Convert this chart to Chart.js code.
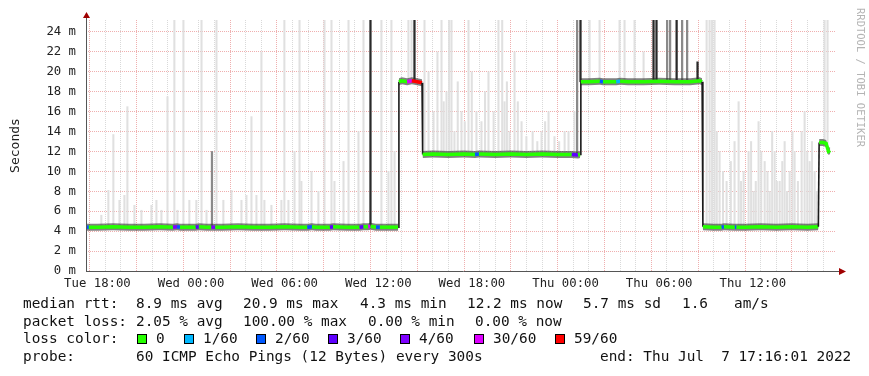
<!DOCTYPE html>
<html>
<head>
<meta charset="utf-8">
<script src="https://cdn.jsdelivr.net/npm/chart.js@4"></script>
<style>
  html, body { margin: 0; padding: 0; background: #fff; }
  #wrap { width: 869px; height: 376px; }
</style>
</head>
<body>
<div id="wrap"><canvas id="chart" width="869" height="376"></canvas></div>
<script>
// --- data (time in hours since Tue 00:00, values in ms) ---
const medTime = [17.27, 17.45, 18, 19, 20, 21, 22, 22.84, 23.1, 23.29, 24, 24.3, 24.5, 25, 25.3, 25.55, 26, 27, 28, 29, 30, 31, 31.45, 31.75, 32, 32.9, 33.1, 34, 34.8, 35.05, 35.35, 35.5, 35.85, 36.1, 36.6, 37.0, 37.27,
  37.32, 37.5, 37.85, 38.15, 38.5, 38.8,
  38.84, 39.5, 40.5, 41.5, 42.2, 42.45, 43.5, 44.5, 45.5, 46.5, 47.5, 48.4, 48.8, 48.93,
  48.98, 49.5, 50.2, 50.4, 51.25, 51.5, 52, 53, 54, 55, 56, 56.6, 56.75,
  56.8, 57.5, 58.0, 58.15, 58.85, 58.95, 59.5, 60.5, 61.5, 62.5, 63.5, 64.2,
  64.25, 64.5, 64.7, 64.85, 64.96];
const medVal = [4.4, 4.4, 4.4, 4.45, 4.4, 4.4, 4.45, 4.4, 4.45, 4.4, 4.4, 4.4, 4.45, 4.4, 4.4, 4.4, 4.4, 4.45, 4.4, 4.4, 4.45, 4.4, 4.4, 4.45, 4.4, 4.4, 4.45, 4.4, 4.4, 4.45, 4.45, 4.5, 4.4, 4.4, 4.4, 4.4, 4.4,
  19.0, 19.1, 19.0, 19.1, 19.0, 18.9,
  11.7, 11.75, 11.7, 11.75, 11.7, 11.75, 11.7, 11.75, 11.7, 11.75, 11.7, 11.7, 11.65, 11.7,
  19.0, 19.0, 19.05, 19.0, 19.0, 19.05, 19.0, 19.0, 19.05, 19.0, 19.0, 19.1, 19.0,
  4.45, 4.4, 4.4, 4.45, 4.4, 4.4, 4.4, 4.45, 4.4, 4.45, 4.4, 4.45,
  12.9, 12.9, 12.8, 12.0, 12.1];
const medLoss = [0, 2, 0, 0, 0, 0, 0, 0, 4, 2, 0, 0, 3, 0, 0, 4, 0, 0, 0, 0, 0, 0, 0, 2, 0, 0, 3, 0, 0, 3, 0, 5, 0, 2, 0, 0, 0,
  0, 0, 0, 5, 6, 6,
  0, 0, 0, 0, 0, 2, 0, 0, 0, 0, 0, 0, 3, 0,
  0, 0, 0, 2, 0, 1, 0, 0, 0, 0, 0, 0, 0,
  0, 0, 0, 2, 0, 2, 0, 0, 0, 0, 0, 0,
  0, 0, 0, 0, 0];

// light smoke spikes (max ping per step)
const smokeTime = [18.16, 18.61, 18.93, 19.32, 19.64, 19.83, 20.28, 20.73, 21.37, 21.69, 22.01, 22.40, 22.84, 23.04, 23.42, 23.80, 24.25, 24.58, 24.90, 25.54, 25.98, 26.50, 27.14, 27.46, 27.78, 28.10, 28.42, 28.61, 29.06, 29.70, 29.89, 30.15, 30.54, 30.86, 30.98, 31.63, 32.07, 32.46, 32.91, 33.10, 33.68, 34.00, 34.64, 34.96, 36.11, 36.56, 36.75, 36.95,
  37.84, 38.04,
  38.87, 39.13, 39.45, 39.7, 39.96, 40.1, 40.28, 40.45, 40.60, 40.79, 41.0, 41.24, 41.45, 41.69, 41.9, 42.2, 42.52, 42.75, 42.97, 43.3, 43.61, 43.85, 44.0, 44.15, 44.32, 44.64, 44.85, 45.09, 45.4, 45.8, 46.1, 46.37, 46.6, 46.82, 47.20, 47.5, 47.85, 48.10, 48.48,
  49.45, 50.09, 51.37, 51.69, 52.33, 52.91,
  56.95, 57.14, 57.3, 57.46, 57.6, 57.78, 58.0, 58.23, 58.5, 58.74, 59.0, 59.15, 59.32, 59.64, 59.8, 59.96, 60.1, 60.28, 60.45, 60.67, 60.85, 60.99, 61.15, 61.31, 61.45, 61.63, 61.8, 61.95, 62.1, 62.27, 62.45, 62.59, 62.8, 63.04, 63.23, 63.4, 63.55, 63.7, 63.87, 64.0,
  64.51, 64.70];
const smokeTop = [5.6, 8.1, 13.7, 7.1, 7.6, 16.5, 6.6, 6.1, 6.6, 7.1, 6.1, 17.5, 25.2, 6.1, 25.2, 7.1, 7.1, 25.2, 6.1, 25.2, 7.1, 8.1, 7.1, 7.6, 15.5, 7.6, 22.0, 7.1, 6.6, 7.1, 25.2, 7.1, 12, 25.2, 9, 10, 8, 25.2, 25.2, 9, 11, 25.2, 14, 25.2, 25.2, 10, 25.2, 12,
  25.2, 25.2,
  25.2, 20, 16, 22, 25.2, 17, 18, 25.2, 25.2, 14, 19, 16, 15, 25.2, 20, 16, 15, 18, 20, 16, 25.2, 25.2, 17, 19, 14, 22, 17, 15, 13.5, 14, 13, 14, 15, 16, 13.5, 13, 14, 14, 16,
  25.2, 25.2, 25.2, 25.2, 25.2, 22,
  25.2, 25.2, 25.2, 25.2, 14, 12, 10, 9, 11, 13, 17, 9, 10, 12, 13, 8, 9, 15, 12, 11, 10, 8, 14, 12, 9, 9, 11, 13, 8, 10, 14, 12, 9, 14, 16, 12, 11, 13, 10, 8,
  25.2, 25.2];

// mid-grey smoke spikes
const midTime = [25.34, 48.74, 54.51, 54.70, 55.47, 55.79];
const midTop = [12.0, 25.2, 25.2, 25.2, 25.2, 25.2];

// near-black smoke spikes
const darkTime = [35.60, 38.42, 49.06, 53.74, 53.93, 55.22, 56.56];
const darkTop = [25.2, 25.2, 25.2, 25.2, 25.2, 25.2, 21.0];

const xTickHours = [18, 24, 30, 36, 42, 48, 54, 60];
const xTickLabels = ['Tue 18:00', 'Wed 00:00', 'Wed 06:00', 'Wed 12:00', 'Wed 18:00', 'Thu 00:00', 'Thu 06:00', 'Thu 12:00'];
const lossLabels = ['0', '1/60', '2/60', '3/60', '4/60', '30/60', '59/60'];
const statsRtt = ['median rtt:', '8.9 ms avg', '20.9 ms max', '4.3 ms min', '12.2 ms now', '5.7 ms sd', '1.6', 'am/s'];
const statsLoss = ['packet loss:', '2.05 % avg', '100.00 % max', '0.00 % min', '0.00 % now'];
const probeText = ['probe:', '60 ICMP Echo Pings (12 Bytes) every 300s', 'end: Thu Jul  7 17:16:01 2022'];

const START = 17.267, END = 65.267;
const lossColors = ['#26ff00', '#00b8ff', '#0059ff', '#5e00ff', '#7e00ff', '#dd00ff', '#ff0000'];
const MONO = '"DejaVu Sans Mono", "Liberation Mono", monospace';

function medianAt(t) {
  let v = medVal[0];
  for (let i = 0; i < medTime.length; i++) {
    if (medTime[i] <= t) v = medVal[i];
    else break;
  }
  return v;
}

const spikes = (times, tops) => times.map((t, i) => ({ x: t, y: [medianAt(t), tops[i]] }));
const medData = medTime.map((t, i) => ({ x: t, y: medVal[i] }));
const bandHi = medTime.map((t, i) => ({ x: t, y: medVal[i] + 0.35 }));
const bandLo = medTime.map((t, i) => ({ x: t, y: medVal[i] - 0.35 }));
const isStep = c => Math.abs(c.p1.parsed.y - c.p0.parsed.y) > 1;

// --- decorations: axes with arrows, labels, legend ---
const decor = {
  id: 'decor',
  afterDraw(chart) {
    const ctx = chart.ctx;
    const a = chart.chartArea;
    ctx.save();
    ctx.strokeStyle = '#555';
    ctx.lineWidth = 1;
    ctx.beginPath();
    ctx.moveTo(a.left + 0.5, a.bottom);
    ctx.lineTo(a.left + 0.5, a.top - 4);
    ctx.moveTo(a.left, a.bottom + 0.5);
    ctx.lineTo(a.right + 6, a.bottom + 0.5);
    ctx.stroke();
    ctx.fillStyle = '#a00000';
    ctx.beginPath();
    ctx.moveTo(a.left - 3, a.top - 2);
    ctx.lineTo(a.left + 4, a.top - 2);
    ctx.lineTo(a.left + 0.5, a.top - 8);
    ctx.closePath();
    ctx.fill();
    ctx.beginPath();
    ctx.moveTo(a.right + 4, a.bottom - 3);
    ctx.lineTo(a.right + 4, a.bottom + 4);
    ctx.lineTo(a.right + 11, a.bottom + 0.5);
    ctx.closePath();
    ctx.fill();

    // y title
    ctx.fillStyle = '#222';
    ctx.font = '13px ' + MONO;
    ctx.textAlign = 'center';
    ctx.textBaseline = 'middle';
    ctx.save();
    ctx.translate(16, (a.top + a.bottom) / 2);
    ctx.rotate(-Math.PI / 2);
    ctx.fillText('Seconds', 0, 0);
    ctx.restore();

    // watermark
    ctx.save();
    ctx.fillStyle = '#b4b4b4';
    ctx.font = '10.5px ' + MONO;
    ctx.textAlign = 'left';
    ctx.textBaseline = 'alphabetic';
    ctx.translate(857, 8);
    ctx.rotate(Math.PI / 2);
    ctx.fillText('RRDTOOL / TOBI OETIKER', 0, 0);
    ctx.restore();

    // legend
    ctx.font = '14.4px ' + MONO;
    ctx.textAlign = 'left';
    ctx.textBaseline = 'middle';
    ctx.fillStyle = '#111';
    const rttX = [23, 136, 243, 360, 467, 583, 682, 734];
    statsRtt.forEach((s, i) => ctx.fillText(s, rttX[i], 304));
    const lossX = [23, 136, 243, 368, 475];
    statsLoss.forEach((s, i) => ctx.fillText(s, lossX[i], 322));
    ctx.fillText('loss color:', 23, 339);
    const boxX = [137, 184, 256, 328, 400, 474, 555];
    lossLabels.forEach((s, i) => {
      ctx.fillStyle = lossColors[i];
      ctx.fillRect(boxX[i], 334, 10, 10);
      ctx.strokeStyle = '#000';
      ctx.strokeRect(boxX[i] + 0.5, 334.5, 9, 9);
      ctx.fillStyle = '#111';
      ctx.fillText(s, boxX[i] + 19, 339);
    });
    const probeX = [23, 136, 600];
    probeText.forEach((s, i) => ctx.fillText(s, probeX[i], 357));
    ctx.restore();
  }
};

new Chart(document.getElementById('chart'), {
  type: 'bar',
  data: {
    datasets: [
      {
        type: 'line', data: medData, order: 1,
        borderWidth: 3.5, pointRadius: 0, tension: 0, fill: false,
        borderColor: lossColors[0],
        segment: {
          borderColor: c => isStep(c) ? '#1a1a1a' : lossColors[medLoss[c.p1DataIndex]],
          borderWidth: c => isStep(c) ? 1.6 : 3.5
        }
      },
      {
        type: 'line', data: bandHi, order: 2,
        borderWidth: 0, pointRadius: 0, tension: 0,
        fill: '+1', backgroundColor: 'rgba(45,45,45,0.6)',
        segment: { backgroundColor: c => isStep(c) ? 'rgba(0,0,0,0)' : 'rgba(45,45,45,0.6)' }
      },
      {
        type: 'line', data: bandLo, order: 3,
        borderWidth: 0, pointRadius: 0, tension: 0, fill: false
      },
      {
        type: 'bar', data: spikes(darkTime, darkTop), order: 4,
        backgroundColor: '#2a2a2a', barThickness: 1.6
      },
      {
        type: 'bar', data: spikes(midTime, midTop), order: 5,
        backgroundColor: '#8a8a8a', barThickness: 1.6
      },
      {
        type: 'bar', data: spikes(smokeTime, smokeTop), order: 6,
        backgroundColor: '#e0e0e0', barThickness: 1.4
      }
    ]
  },
  options: {
    responsive: false,
    animation: false,
    devicePixelRatio: 1,
    layout: { padding: { top: 20, right: 34, left: 0, bottom: 0 } },
    plugins: { legend: { display: false }, tooltip: { enabled: false } },
    scales: {
      x: {
        type: 'linear', min: START, max: END, offset: false,
        afterFit: s => { s.height = 105; },
        afterBuildTicks: s => {
          const t = [];
          for (let h = 18; h <= 65; h++) t.push({ value: h });
          s.ticks = t;
        },
        border: { display: false, dash: [1, 1] },
        grid: {
          drawTicks: false,
          color: c => (c.tick && c.tick.value % 3 === 0) ? 'rgba(225,110,110,0.55)' : 'rgba(170,170,170,0.45)'
        },
        ticks: {
          autoSkip: false, maxRotation: 0, padding: 5,
          color: '#222', font: { family: MONO, size: 12.3 },
          callback: v => { const i = xTickHours.indexOf(v); return i >= 0 ? xTickLabels[i] : ''; }
        }
      },
      y: {
        min: 0, max: 25.2,
        afterFit: s => { s.width = 86; },
        afterBuildTicks: s => {
          const t = [];
          for (let v = 0; v <= 25; v++) t.push({ value: v });
          s.ticks = t;
        },
        border: { display: false, dash: [1, 1] },
        grid: {
          drawTicks: false,
          color: c => (c.tick && c.tick.value % 2 === 0) ? 'rgba(225,110,110,0.55)' : 'rgba(170,170,170,0.45)'
        },
        ticks: {
          padding: 10, color: '#222', font: { family: MONO, size: 12.3 },
          callback: v => v % 2 === 0 ? v + ' m' : ''
        }
      }
    }
  },
  plugins: [decor]
});
</script>
</body>
</html>
